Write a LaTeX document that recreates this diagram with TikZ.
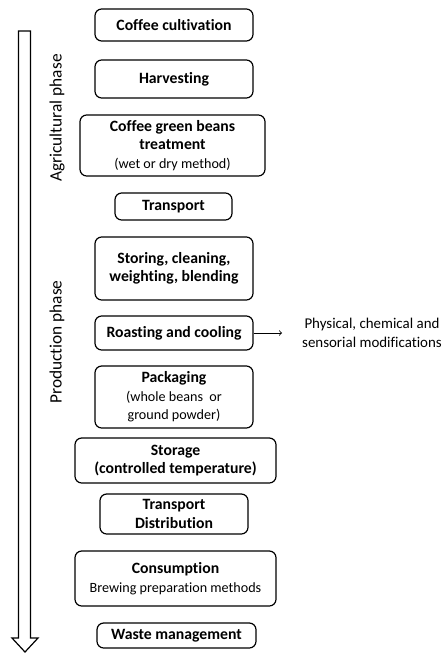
\documentclass[tikz,border=0pt]{standalone}
\usepackage{fontspec}
\setmainfont{Carlito}[Ligatures=NoCommon]
\newcommand\subtextfont{\normalfont\fontsize{10.6}{13.8}\selectfont}
\begin{document}
\begin{tikzpicture}[x=0.75pt,y=-0.75pt,
  stagebox/.style={draw,line width=0.9pt,rounded corners=5pt,align=center,
    inner sep=0pt,font=\bfseries\fontsize{11.8}{13.9}\selectfont},
  phase/.style={rotate=90,font=\fontsize{13}{15}\selectfont}]
\useasboundingbox (0,0) rectangle (446,663);
% time line arrow
\draw[line width=0.9pt] (18.5,31) -- (30.5,31) -- (30.5,638) -- (38,638)
  -- (25,652) -- (12,638) -- (18.5,638) -- cycle;
\node[phase] (agri) at (57,118) {Agricultural phase};
\node[phase] (prod) at (57,342) {Production phase};
% stages
\node[stagebox,minimum width=118.5pt,minimum height=24pt] (cult) at (174,25) {Coffee cultivation};
\node[stagebox,minimum width=118.5pt,minimum height=28.5pt] (harv) at (174,79) {Harvesting};
\node[stagebox,minimum width=138.75pt,minimum height=45.75pt] (treat) at (172.5,145.5)
  {Coffee green beans\\treatment\\{\subtextfont(wet or dry method)}};
\node[stagebox,minimum width=87.75pt,minimum height=20.25pt] (trans) at (173.5,206.5) {Transport};
\node[stagebox,minimum width=118.5pt,minimum height=47.25pt] (store) at (174,268.5)
  {Storing, cleaning,\\weighting, blending};
\node[stagebox,minimum width=118.5pt,minimum height=25.5pt] (roast) at (174,333) {Roasting and cooling};
\node[stagebox,minimum width=118.5pt,minimum height=46.5pt] (pack) at (174,397)
  {Packaging\\{\subtextfont(whole beans\ \ or}\\{\subtextfont ground powder)}};
\node[stagebox,minimum width=150.75pt,minimum height=33.75pt] (stor) at (175.5,460.5)
  {Storage\\(controlled temperature)};
\node[stagebox,minimum width=111pt,minimum height=30pt] (distr) at (174,514)
  {Transport\\Distribution};
\node[stagebox,minimum width=150.75pt,minimum height=41.25pt] (cons) at (175.5,578.5)
  {Consumption\\{\subtextfont Brewing preparation methods}};
\node[stagebox,minimum width=119.25pt,minimum height=18.75pt] (waste) at (176.5,635.5) {Waste management};
% roasting effects
\node[align=center,font=\fontsize{11.2}{14}\selectfont] (mods) at (372,333)
  {Physical, chemical and\\sensorial modifications};
\coordinate (modsin) at (282,333);
\draw[->,line width=0.6pt] (roast) -- (modsin);
\end{tikzpicture}
\end{document}
